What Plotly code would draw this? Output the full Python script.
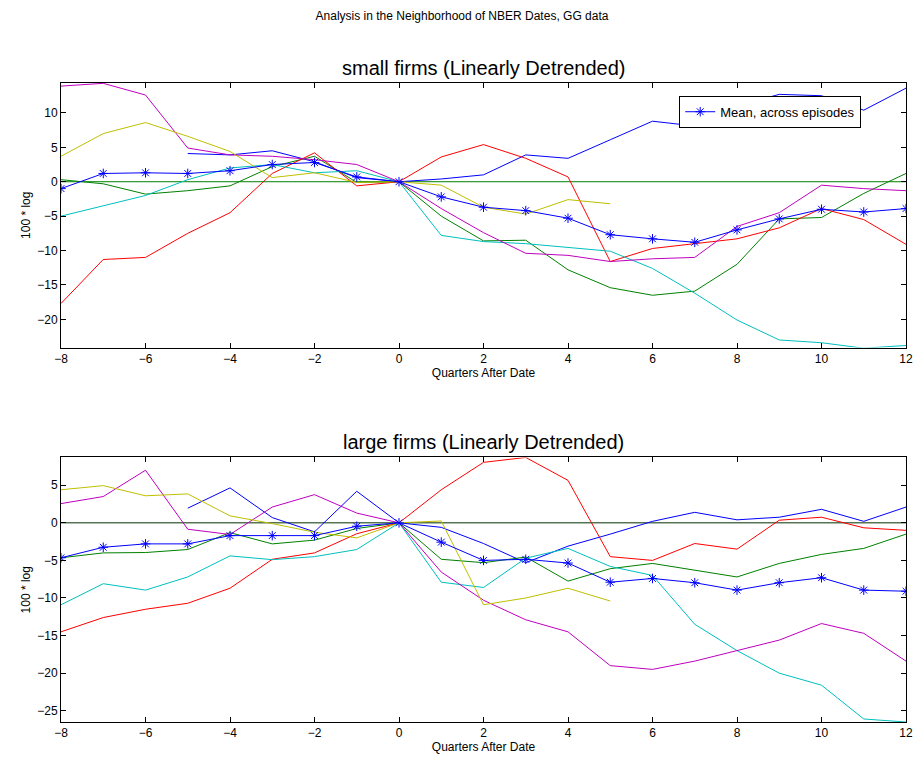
import plotly.graph_objects as go
from plotly.subplots import make_subplots

quarters = list(range(-8, 13))

# small firms (top panel)
small_blue = [None, None, None, 4.1, 3.9, 4.5, 2.9, 0.6, 0, 0.4, 1.0, 3.9, 3.4, 6.1, 8.8, 8.1, 11.0, 12.7, 12.5, 10.4, 13.6]
small_green = [0.3, -0.3, -1.8, -1.3, -0.6, 2.2, 3.7, -0.1, 0, -5.0, -8.6, -8.5, -12.8, -15.4, -16.5, -15.9, -12.0, -5.4, -5.2, -1.7, 1.2]
small_red = [-17.7, -11.3, -11.0, -7.5, -4.5, 1.2, 4.2, -0.6, 0, 3.6, 5.4, 3.4, 0.7, -11.6, -9.7, -9.0, -8.3, -6.7, -3.9, -5.5, -9.1]
small_cyan = [-5.0, -3.5, -2.0, 0.3, 2.0, 2.5, 1.3, 1.6, 0, -7.8, -8.7, -9.0, -9.6, -10.1, -12.6, -16.2, -20.1, -23.0, -23.4, -24.2, -23.8]
small_magenta = [13.9, 14.3, 12.6, 4.9, 3.9, 3.7, 3.2, 2.5, 0, -3.9, -7.4, -10.4, -10.7, -11.6, -11.2, -11.0, -6.5, -4.5, -0.5, -1.0, -1.3]
small_yellow = [3.7, 7.0, 8.6, 6.6, 4.4, 0.6, 1.3, -0.1, 0, -0.5, -3.7, -4.7, -2.6, -3.2, None, None, None, None, None, None, None]
small_mean = [-1.0, 1.2, 1.3, 1.2, 1.6, 2.5, 2.8, 0.7, 0, -2.2, -3.7, -4.2, -5.3, -7.7, -8.3, -8.8, -7.0, -5.4, -4.0, -4.4, -3.9]

# large firms (bottom panel)
large_blue = [None, None, None, 1.95, 4.65, 0.7, -1.2, 4.2, 0, -0.6, -2.75, -5.3, -3.1, -1.5, 0.2, 1.4, 0.4, 0.75, 1.8, 0.2, 2.1]
large_green = [-4.65, -4.0, -3.95, -3.55, -1.3, -2.8, -2.3, -0.75, 0, -4.85, -5.3, -4.55, -7.75, -6.1, -5.4, -6.3, -7.2, -5.4, -4.2, -3.4, -1.5]
large_red = [-14.5, -12.6, -11.5, -10.7, -8.7, -4.85, -4.0, -1.45, 0, 4.4, 8.05, 8.7, 5.65, -4.5, -5.0, -2.75, -3.5, 0.35, 0.75, -0.66, -1.0]
large_cyan = [-10.9, -8.1, -8.95, -7.2, -4.4, -4.9, -4.5, -3.55, 0, -7.9, -8.6, -4.7, -3.4, -5.8, -7.0, -13.5, -17.0, -20.0, -21.6, -26.1, -26.5]
large_magenta = [2.56, 3.5, 7.0, -0.85, -1.55, 2.1, 3.75, 1.3, 0, -6.55, -10.3, -12.9, -14.5, -19.0, -19.5, -18.4, -17.0, -15.6, -13.4, -14.7, -18.4]
large_yellow = [4.4, 4.95, 3.6, 3.85, 0.93, -0.1, -1.25, -2.0, 0, 0.25, -10.9, -10.0, -8.7, -10.4, None, None, None, None, None, None, None]
large_mean = [-4.65, -3.25, -2.8, -2.8, -1.7, -1.7, -1.7, -0.45, 0, -2.57, -5.0, -4.85, -5.35, -7.9, -7.4, -7.97, -8.95, -7.97, -7.3, -8.95, -9.1]

zero_line = [0] * len(quarters)

colors = ["#0000ff", "#008000", "#ff0000", "#00bfbf", "#bf00bf", "#bfbf00"]

fig = make_subplots(rows=2, cols=1, vertical_spacing=0.172,
                    subplot_titles=("small firms (Linearly Detrended)", "large firms (Linearly Detrended)"))

panels = [
    (1, [small_blue, small_green, small_red, small_cyan, small_magenta, small_yellow], small_mean, "#008000"),
    (2, [large_blue, large_green, large_red, large_cyan, large_magenta, large_yellow], large_mean, "#003000"),
]
for row, series, mean, zcol in panels:
    fig.add_trace(go.Scatter(x=quarters, y=zero_line, mode="lines", line=dict(color=zcol, width=1),
                             showlegend=False, hoverinfo="skip"), row=row, col=1)
    for s, c in zip(series, colors):
        fig.add_trace(go.Scatter(x=quarters, y=s, mode="lines", line=dict(color=c, width=1),
                                 showlegend=False), row=row, col=1)
    fig.add_trace(go.Scatter(x=quarters, y=mean, mode="lines+markers", name="Mean, across episodes",
                             line=dict(color="#0000ff", width=1),
                             marker=dict(symbol="asterisk-open", size=8, color="#0000ff",
                                         line=dict(color="#0000ff", width=1)),
                             showlegend=(row == 1)), row=row, col=1)

axis_style = dict(showline=True, linecolor="black", linewidth=1, mirror="ticks", ticks="inside",
                  ticklen=5, tickcolor="black", showgrid=False, zeroline=False,
                  tickfont=dict(size=12, color="black"))
fig.update_xaxes(range=[-8, 12], tickvals=list(range(-8, 13, 2)),
                 ticktext=[str(v).replace("-", "\u2212") for v in range(-8, 13, 2)],
                 title=dict(text="Quarters After Date", font=dict(size=12), standoff=2), **axis_style)
fig.update_yaxes(title=dict(text="100 * log", font=dict(size=12), standoff=4), **axis_style)
fig.update_yaxes(range=[-24.1, 14.35], tickvals=[-20, -15, -10, -5, 0, 5, 10],
                 ticktext=["\u221220", "\u221215", "\u221210", "\u22125", "0", "5", "10"], row=1, col=1)
fig.update_yaxes(range=[-26.5, 8.7], tickvals=[-25, -20, -15, -10, -5, 0, 5],
                 ticktext=["\u221225", "\u221220", "\u221215", "\u221210", "\u22125", "0", "5"], row=2, col=1)

for ann in fig.layout.annotations:
    ann.font = dict(size=20, color="black")
    ann.yshift = 2

fig.update_layout(
    width=924, height=762,
    margin=dict(l=61, r=11, t=83, b=39),
    paper_bgcolor="white", plot_bgcolor="white",
    font=dict(family="Liberation Sans, Arial, sans-serif", color="black", size=12),
    title=dict(text="Analysis in the Neighborhood of NBER Dates, GG data", x=0.5, xanchor="center",
               y=0.985, yanchor="top", font=dict(size=12)),
    legend=dict(x=0.947, y=0.98, xanchor="right", yanchor="top", bgcolor="white",
                bordercolor="black", borderwidth=1, font=dict(size=13)),
)

fig.write_html("out.html", config={"displayModeBar": False},
               post_script="document.body.style.margin='0';document.body.style.overflow='hidden';")
